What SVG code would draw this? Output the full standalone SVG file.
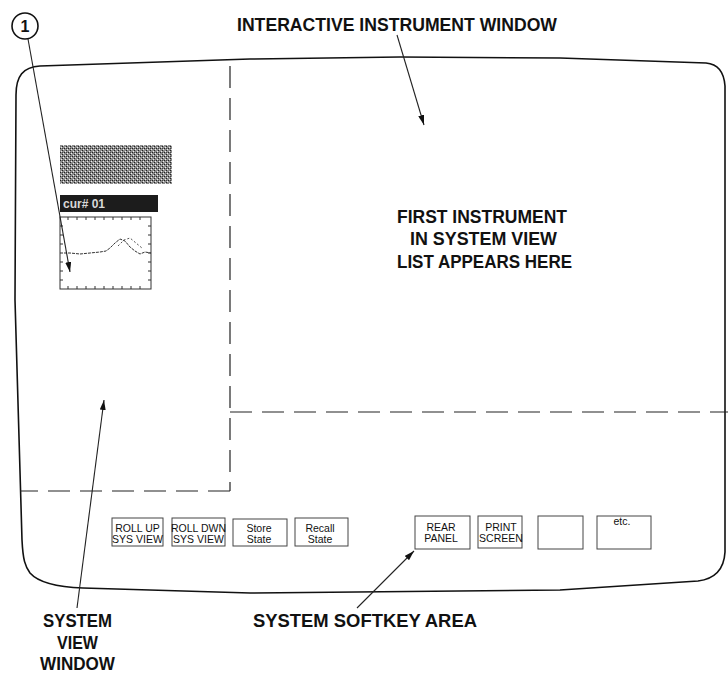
<svg xmlns="http://www.w3.org/2000/svg" width="728" height="676" viewBox="0 0 728 676">
<defs>
<marker id="ah" markerUnits="userSpaceOnUse" markerWidth="11" markerHeight="6" refX="10" refY="3" orient="auto"><path d="M0,0 L10,3 L0,6 z" fill="#111"/></marker>
<pattern id="dither" width="4" height="4" patternUnits="userSpaceOnUse"><rect width="4" height="4" fill="#8c8c8c"/><rect x="0" y="0" width="1" height="1" fill="#222"/><rect x="2" y="2" width="1" height="1" fill="#222"/><rect x="1" y="3" width="1" height="1" fill="#eee"/><rect x="3" y="1" width="1" height="1" fill="#eee"/><rect x="2" y="0" width="1" height="1" fill="#444"/></pattern>
<style>
.lbl{font-family:"Liberation Sans",Arial,sans-serif;font-weight:bold;font-size:18px;fill:#111}
.key{fill:#fff;stroke:#444;stroke-width:1}
.kt{font-family:"Liberation Sans",Arial,sans-serif;font-size:10.5px;fill:#111;text-anchor:middle}
.dash{fill:none;stroke:#222;stroke-width:1.2;stroke-dasharray:22 10}
.conn{fill:none;stroke:#222;stroke-width:1.1}
.tick{stroke:#333;stroke-width:1}
</style>
</defs>

<g id="screen">
<path d="M15,300 L16,95 C16,76 23,67 40,66 L250,59 L400,57 L560,58 L706,63 C718,64 724,72 725,86 L725,552 C724,570 714,579 698,581 L560,590 L250,593 L83,588 C55,587 38,582 30,573 C25,566 23,560 22,540 Z" fill="none" stroke="#111" stroke-width="1.6"/>
</g>

<g id="dividers">
<path class="dash" d="M230,66 L230,491"/>
<path class="dash" d="M230,412 L728,412"/>
<path class="dash" d="M230,491 L20,491"/>
</g>

<g id="system-view-window">
<rect x="60" y="145" width="112" height="39" fill="url(#dither)"/>
<rect x="60" y="195" width="98" height="17" fill="#1c1c1c"/>
<text x="63" y="208" font-family="Liberation Sans, Arial, sans-serif" font-size="12" font-weight="bold" fill="#d8d8d8">cur# 01</text>
<rect x="60" y="217" width="91" height="72" fill="#fff" stroke="#333" stroke-width="1"/>
<path class="tick" d="M68,217v3M77,217v3M86,217v3M95,217v3M104,217v3M113,217v3M122,217v3M131,217v3M140,217v3M68,289v-3M77,289v-3M86,289v-3M95,289v-3M104,289v-3M113,289v-3M122,289v-3M131,289v-3M140,289v-3M151,226h-3M151,235h-3M151,244h-3M151,253h-3M151,262h-3M151,271h-3M151,280h-3M60,226h3M60,235h3M60,244h3M60,262h3M60,271h3M60,280h3"/>
<polyline points="60,253 70,253 80,254 90,253 100,252 106,251 110,248 115,243 120,239 125,241 130,247 135,251 140,254 145,252 151,253" fill="none" stroke="#333" stroke-width="1" stroke-dasharray="3 1"/>
<polyline points="118,246 124,240 130,238 136,243 142,248" fill="none" stroke="#555" stroke-width="1" stroke-dasharray="2 2"/>
</g>

<g id="callout-1">
<circle cx="25" cy="26" r="13" fill="#fff" stroke="#111" stroke-width="1.6"/>
<text x="25" y="32" text-anchor="middle" font-family="Liberation Sans, Arial, sans-serif" font-weight="bold" font-size="16" fill="#111">1</text>
</g>

<g id="softkeys">
<g id="key-rollup"><rect class="key" x="112" y="518" width="51" height="28"/><text class="kt" x="137.5" y="532">ROLL UP</text><text class="kt" x="137.5" y="543">SYS VIEW</text></g>
<g id="key-rolldwn"><rect class="key" x="172" y="518" width="53" height="28"/><text class="kt" x="198.5" y="532">ROLL DWN</text><text class="kt" x="198.5" y="543">SYS VIEW</text></g>
<g id="key-store"><rect class="key" x="233" y="519" width="54" height="27"/><text class="kt" x="259" y="532">Store</text><text class="kt" x="259" y="543">State</text></g>
<g id="key-recall"><rect class="key" x="295" y="518" width="53" height="28"/><text class="kt" x="320" y="532">Recall</text><text class="kt" x="320" y="543">State</text></g>
<g id="key-rear"><rect class="key" x="415" y="516" width="55" height="33"/><text class="kt" x="441" y="531">REAR</text><text class="kt" x="441" y="542">PANEL</text></g>
<g id="key-print"><rect class="key" x="478" y="516" width="44" height="32"/><text class="kt" x="501" y="531">PRINT</text><text class="kt" x="501" y="542">SCREEN</text></g>
<g id="key-blank"><rect class="key" x="538" y="516" width="45" height="33"/></g>
<g id="key-etc"><rect class="key" x="597" y="516" width="54" height="33"/><text class="kt" x="622" y="525">etc.</text></g>
</g>

<g id="labels">
<text class="lbl" x="237" y="31" textLength="320" lengthAdjust="spacingAndGlyphs">INTERACTIVE INSTRUMENT WINDOW</text>
<text class="lbl" x="397" y="223" textLength="170" lengthAdjust="spacingAndGlyphs">FIRST INSTRUMENT</text>
<text class="lbl" x="410" y="245" textLength="147" lengthAdjust="spacingAndGlyphs">IN SYSTEM VIEW</text>
<text class="lbl" x="397" y="268" textLength="175" lengthAdjust="spacingAndGlyphs">LIST APPEARS HERE</text>
<text class="lbl" x="43" y="627" textLength="69" lengthAdjust="spacingAndGlyphs">SYSTEM</text>
<text class="lbl" x="57" y="649" textLength="41" lengthAdjust="spacingAndGlyphs">VIEW</text>
<text class="lbl" x="40" y="670" font-size="17" textLength="75" lengthAdjust="spacingAndGlyphs">WINDOW</text>
<text class="lbl" x="253" y="627" textLength="224" lengthAdjust="spacingAndGlyphs">SYSTEM SOFTKEY AREA</text>
</g>

<g id="connectors">
<path class="conn" d="M28,39 L70,272" marker-end="url(#ah)"/>
<path class="conn" d="M397,35 L424,125" marker-end="url(#ah)"/>
<path class="conn" d="M77,608 L104,400" marker-end="url(#ah)"/>
<path class="conn" d="M357,608 L414,551" marker-end="url(#ah)"/>
</g>
</svg>
